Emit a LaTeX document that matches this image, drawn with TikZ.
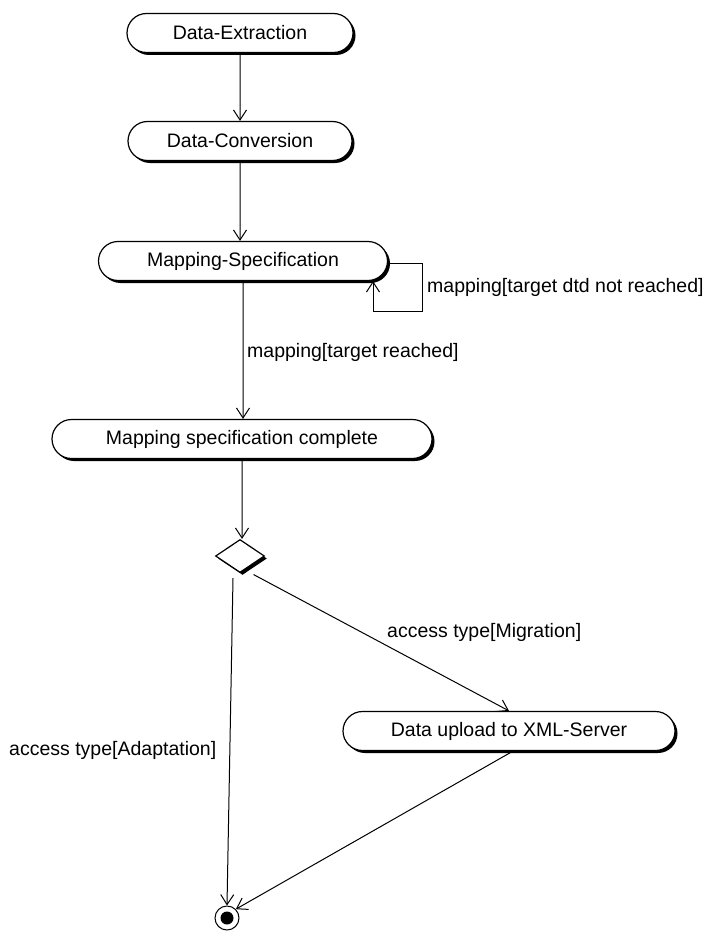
\documentclass[tikz,border=0pt]{standalone}
\usepackage{fontspec}
\setmainfont{Liberation Sans}
\usetikzlibrary{shapes.misc,shapes.geometric,shadows,arrows.meta,calc}
\begin{document}
\begin{tikzpicture}[x=1pt,y=-1pt,
  every node/.style={font=\fontsize{19.5}{22}\selectfont},
  act/.style={rounded rectangle, draw, line width=1.2pt, fill=white, minimum height=39pt, inner sep=0pt,
    drop shadow={shadow xshift=2.5pt,shadow yshift=-2.5pt,fill=black,opacity=1}},
  conn/.style={draw, line width=1pt, -{Straight Barb[length=10pt,width=13pt,line width=1pt]}},
  lbl/.style={anchor=west, inner sep=0pt}]
\useasboundingbox (0,0) rectangle (713,931);
\node[act, minimum width=226pt] (de) at (240,33) {Data-Extraction};
\node[act, minimum width=224pt] (dc) at (240,141) {Data-Conversion};
\node[act, minimum width=289pt] (ms) at (243,261) {Mapping-Specification};
\node[act, minimum width=380pt] (msc) at (242,439) {Mapping specification complete};
\node[diamond, draw, line width=1.2pt, fill=white, minimum width=49pt, minimum height=33pt, inner sep=0pt,
  drop shadow={shadow xshift=2.5pt,shadow yshift=-2.5pt,fill=black,opacity=1}] (dia) at (240,556) {};
\node[act, minimum width=332pt] (du) at (509,731) {Data upload to XML-Server};
\node[circle, draw, line width=1pt, minimum size=24pt, inner sep=0pt] (fin) at (227,918) {};
\node[circle, fill=black, minimum size=13pt, inner sep=0pt] (findot) at (fin) {};

\coordinate (lc) at (422,311);
\coordinate (lp) at (373,311);

\draw[conn] (de) -- (de |- dc.north);
\draw[conn] (dc) -- (dc |- ms.north);
\draw[conn] ([yshift=-2pt]ms.east) -- ([yshift=-2pt]ms.east -| lc) -- (lc) -- (lp) -- (lp |- ms.south);
\node[lbl] (l1) at (427,287) {mapping[target dtd not reached]};
\draw[conn] (ms) -- (ms |- msc.north);
\node[lbl] (l2) at (247,352) {mapping[target reached]};
\draw[conn] (msc) -- (msc |- dia.north);
\draw[conn] ([xshift=-7pt,yshift=-5pt]dia.south) -- (fin.north);
\node[lbl] (l3) at (9,750) {access type[Adaptation]};
\draw[conn] ([xshift=1pt,yshift=-10pt]dia.south east) -- (du.north);
\node[lbl] (l4) at (387,632) {access type[Migration]};
\draw[conn] ([xshift=4pt]du.south) -- (fin.north east);
\end{tikzpicture}
\end{document}
